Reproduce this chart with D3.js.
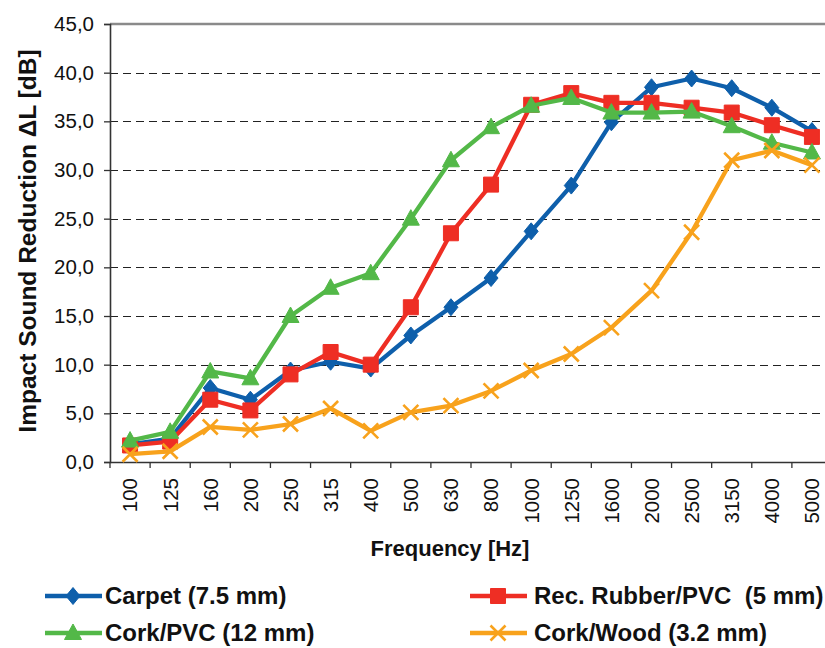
<!DOCTYPE html>
<html>
<head>
<meta charset="utf-8">
<script src="https://cdn.jsdelivr.net/npm/d3@7"></script>
<style>
  html, body { margin: 0; padding: 0; background: #fff; }
  svg { display: block; font-family: "Liberation Sans", Arial, sans-serif; }
</style>
</head>
<body>
<svg id="chart" width="825" height="648"></svg>
<script>
const frequencies = ["100","125","160","200","250","315","400","500","630","800","1000","1250","1600","2000","2500","3150","4000","5000"];
const carpet   = [1.8, 2.4, 7.6, 6.4, 9.4, 10.3, 9.6, 13.0, 15.9, 18.9, 23.7, 28.4, 34.9, 38.5, 39.4, 38.4, 36.4, 34.0];
const rubber   = [1.7, 2.1, 6.4, 5.3, 9.0, 11.3, 10.0, 15.9, 23.5, 28.5, 36.7, 37.9, 36.9, 36.9, 36.4, 35.9, 34.6, 33.4];
const corkPvc  = [2.2, 3.1, 9.3, 8.6, 15.0, 17.9, 19.4, 25.0, 31.0, 34.4, 36.6, 37.4, 35.9, 35.9, 36.0, 34.5, 32.8, 31.8];
const corkWood = [0.8, 1.1, 3.6, 3.3, 3.9, 5.5, 3.2, 5.1, 5.8, 7.3, 9.4, 11.1, 13.8, 17.6, 23.6, 31.0, 32.0, 30.5];
const yTicks = [0, 5, 10, 15, 20, 25, 30, 35, 40, 45];
const seriesNames = ["Carpet (7.5 mm)", "Rec. Rubber/PVC  (5 mm)", "Cork/PVC (12 mm)", "Cork/Wood (3.2 mm)"];
const seriesColors = ["#0E5FAB", "#EE2E24", "#53B848", "#F8A21C"];
const seriesMarkers = ["diamond", "square", "triangle", "cross"];
const yTitle = "Impact Sound Reduction \u0394L [dB]";
const xTitle = "Frequency [Hz]";

(function () {
const series = [carpet, rubber, corkPvc, corkWood].map((vals, i) => ({
  name: seriesNames[i], color: seriesColors[i], marker: seriesMarkers[i], values: vals
}));

const svg = d3.select("#chart");
const W = 825, H = 648;
const pLeft = 110, pRight = 832, pTop = 24, pBottom = 462;

svg.append("rect").attr("width", W).attr("height", H).attr("fill", "#fff");

const x = d3.scaleBand().domain(frequencies).range([pLeft, pRight]).padding(0);
const y = d3.scaleLinear().domain([0, 45]).range([pBottom, pTop]);
const cx = f => x(f) + x.bandwidth() / 2;

// gridlines
svg.append("g").selectAll("line").data(yTicks.filter(t => t > 0 && t < 45)).join("line")
  .attr("x1", pLeft).attr("x2", pRight)
  .attr("y1", d => Math.round(y(d)) + 0.5).attr("y2", d => Math.round(y(d)) + 0.5)
  .attr("stroke", "#222").attr("stroke-width", 1).attr("stroke-dasharray", "8,5");

// top border
svg.append("line").attr("x1", pLeft).attr("x2", pRight)
  .attr("y1", y(45)).attr("y2", y(45))
  .attr("stroke", "#8a8a8a").attr("stroke-width", 2.5);

// y axis
const fmt = d => d3.format(".1f")(d).replace(".", ",");
const yAxis = svg.append("g").attr("transform", `translate(${pLeft},0)`)
  .call(d3.axisLeft(y).tickValues(yTicks).tickFormat(fmt).tickSize(6).tickPadding(10));
yAxis.select(".domain").attr("stroke", "#333").attr("stroke-width", 1.6);
yAxis.selectAll(".tick line").attr("stroke", "#333").attr("stroke-width", 1.3);
yAxis.selectAll(".tick text").attr("font-size", 20.5).attr("fill", "#111")
  .attr("font-family", "Liberation Sans, Arial, sans-serif");

// x axis
const xAxis = svg.append("g").attr("transform", `translate(0,${pBottom})`)
  .call(d3.axisBottom(x).tickSize(0).tickPadding(0));
xAxis.select(".domain").attr("stroke", "#333").attr("stroke-width", 1.6);
xAxis.selectAll(".tick text")
  .attr("font-size", 20.5).attr("fill", "#111")
  .attr("font-family", "Liberation Sans, Arial, sans-serif")
  .attr("text-anchor", "end")
  .attr("transform", "translate(0,16) rotate(-90)")
  .attr("x", 0).attr("y", 0).attr("dy", "0.36em");
// boundary tick marks
svg.append("g").selectAll("line").data(frequencies.map(f => x(f)).concat([pRight])).join("line")
  .attr("x1", d => d).attr("x2", d => d)
  .attr("y1", pBottom).attr("y2", pBottom + 6)
  .attr("stroke", "#333").attr("stroke-width", 1.3);

// axis titles
svg.append("text").text(xTitle)
  .attr("x", 450).attr("y", 556)
  .attr("text-anchor", "middle").attr("font-weight", "bold").attr("font-size", 22).attr("fill", "#111");
svg.append("text").text(yTitle)
  .attr("transform", `translate(27,${(pTop + pBottom) / 2 - 2}) rotate(-90)`)
  .attr("dy", "0.36em")
  .attr("text-anchor", "middle").attr("font-weight", "bold").attr("font-size", 24.5).attr("fill", "#111");

// markers
function markerPath(type) {
  if (type === "diamond") return "M0,-8.5L7,0L0,8.5L-7,0Z";
  if (type === "square") return "M-7.5,-7.5H7.5V7.5H-7.5Z";
  if (type === "triangle") return "M0,-9L8.5,6.5L-8.5,6.5Z";
  return "M-7.5,-7.5L7.5,7.5M-7.5,7.5L7.5,-7.5";
}
function drawMarker(g, type, color) {
  const p = g.append("path").attr("d", markerPath(type));
  if (type === "cross") p.attr("fill", "none").attr("stroke", color).attr("stroke-width", 2.6);
  else p.attr("fill", color).attr("stroke", color).attr("stroke-width", 1);
}

const line = d3.line().x(d => cx(d.f)).y(d => y(d.v));
series.forEach(s => {
  const pts = s.values.map((v, i) => ({ f: frequencies[i], v }));
  const g = svg.append("g");
  g.append("path").datum(pts).attr("d", line)
    .attr("fill", "none").attr("stroke", s.color).attr("stroke-width", 4.3)
    .attr("stroke-linejoin", "round");
  pts.forEach(p => {
    const mg = g.append("g").attr("transform", `translate(${cx(p.f)},${y(p.v)})`);
    drawMarker(mg, s.marker, s.color);
  });
});

// legend
const legendPos = [[45, 596], [470, 596], [45, 633], [470, 633]];
series.forEach((s, i) => {
  const [lx, ly] = legendPos[i];
  const g = svg.append("g").attr("transform", `translate(${lx},${ly})`);
  g.append("line").attr("x1", 0).attr("x2", 57).attr("y1", 0).attr("y2", 0)
    .attr("stroke", s.color).attr("stroke-width", 4.3);
  const mg = g.append("g").attr("transform", "translate(28,0)");
  drawMarker(mg, s.marker, s.color);
  g.append("text").text(s.name)
    .attr("x", i % 2 === 0 ? 60 : 64).attr("y", 0).attr("dy", "0.34em")
    .style("white-space", "pre")
    .attr("font-weight", "bold").attr("font-size", 24).attr("fill", "#111");
});
})();
</script>
</body>
</html>
